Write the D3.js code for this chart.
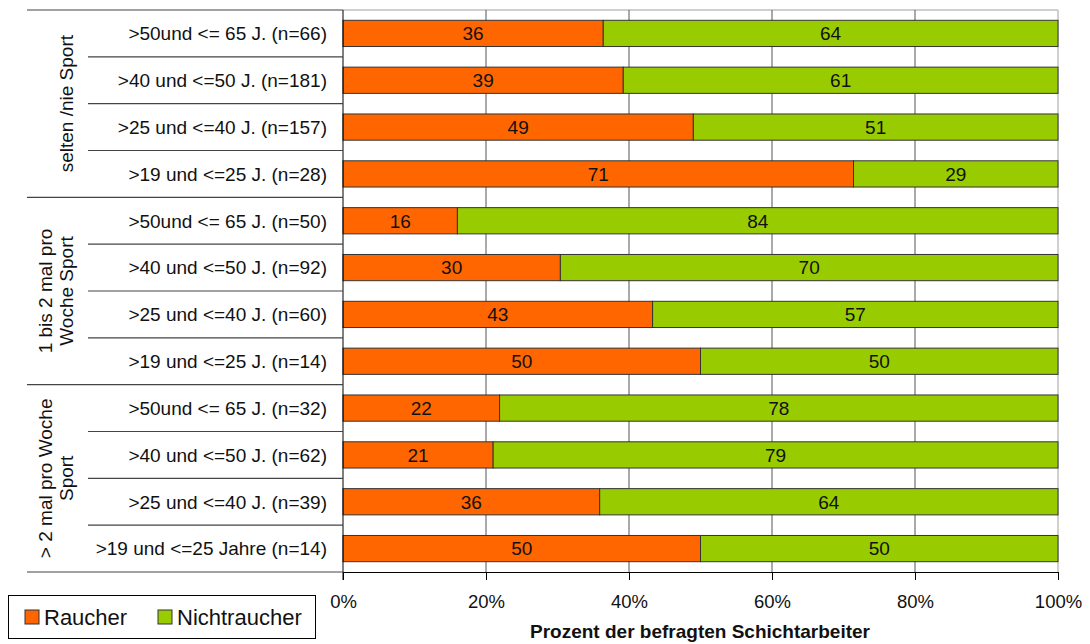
<!DOCTYPE html>
<html><head><meta charset="utf-8">
<script src="https://cdn.jsdelivr.net/npm/d3@7"></script>
<style>body{margin:0;background:#fff}svg{font-family:"Liberation Sans",Arial,sans-serif}</style>
</head><body><svg id="c" width="1090" height="644"></svg>
<script>
const groups = [["selten /nie Sport"], ["1 bis 2 mal pro", "Woche Sport"], ["> 2 mal pro Woche", "Sport"]];
const categories = [
  ">50und <= 65 J. (n=66)", ">40 und <=50 J. (n=181)", ">25 und <=40 J. (n=157)", ">19 und <=25 J. (n=28)",
  ">50und <= 65 J. (n=50)", ">40 und <=50 J. (n=92)", ">25 und <=40 J. (n=60)", ">19 und <=25 J. (n=14)",
  ">50und <= 65 J. (n=32)", ">40 und <=50 J. (n=62)", ">25 und <=40 J. (n=39)", ">19 und <=25 Jahre (n=14)"
];
const raucher = [36.4, 39.2, 49.0, 71.4, 16.0, 30.4, 43.3, 50.0, 21.9, 21.0, 35.9, 50.0];
const nichtraucher = [63.6, 60.8, 51.0, 28.6, 84.0, 69.6, 56.7, 50.0, 78.1, 79.0, 64.1, 50.0];
const raucherLabels = [36, 39, 49, 71, 16, 30, 43, 50, 22, 21, 36, 50];
const nichtraucherLabels = [64, 61, 51, 29, 84, 70, 57, 50, 78, 79, 64, 50];
const xTicks = [0, 20, 40, 60, 80, 100];
const seriesNames = ["Raucher", "Nichtraucher"];
const colors = ["#FF6600", "#99CC00"];

const svg = d3.select("#c");
const L = 343, R = 1058, T = 10, B = 572;
const x = d3.scaleLinear().domain([0, 100]).range([L, R]);
const y = d3.scaleBand().domain(d3.range(categories.length)).range([T, B]).paddingInner(0.44).paddingOuter(0.22);
const rowY = d3.scaleBand().domain(d3.range(categories.length)).range([T, B]);

// frame top/right
svg.append("line").attr("x1", L).attr("x2", R).attr("y1", T).attr("y2", T).attr("stroke", "#c0c0c0").attr("stroke-width", 1.5);
svg.append("line").attr("x1", R).attr("x2", R).attr("y1", T).attr("y2", B).attr("stroke", "#c0c0c0").attr("stroke-width", 1.5);
// gridlines
svg.append("g").selectAll("line").data(xTicks.filter(d => d > 0 && d < 100)).join("line")
  .attr("x1", d => x(d)).attr("x2", d => x(d)).attr("y1", T).attr("y2", B)
  .attr("stroke", "#555").attr("stroke-width", 1);

// stacked bars
const stacked = categories.map((c, i) => [
  {s: 0, x0: 0, x1: raucher[i], lab: raucherLabels[i], i},
  {s: 1, x0: raucher[i], x1: raucher[i] + nichtraucher[i], lab: nichtraucherLabels[i], i}
]).flat();
svg.append("g").selectAll("rect").data(stacked).join("rect")
  .attr("x", d => x(d.x0)).attr("width", d => x(d.x1) - x(d.x0))
  .attr("y", d => y(d.i)).attr("height", y.bandwidth())
  .attr("fill", d => colors[d.s]).attr("stroke", "#333").attr("stroke-width", 1);
svg.append("g").selectAll("text").data(stacked).join("text")
  .attr("x", d => (x(d.x0) + x(d.x1)) / 2).attr("y", d => y(d.i) + y.bandwidth() / 2)
  .attr("dy", "0.36em").attr("text-anchor", "middle").attr("font-size", 19).attr("fill", "#111")
  .text(d => d.lab);

// x axis
const xa = svg.append("g").attr("transform", `translate(0,${B})`)
  .call(d3.axisBottom(x).tickValues(xTicks).tickFormat(d => d + "%").tickSize(8).tickSizeOuter(0));
xa.select(".domain").attr("stroke", "#000");
xa.selectAll(".tick line").attr("stroke", "#000");
xa.selectAll("text").attr("font-size", 18.5).attr("fill", "#111").attr("y", 23).style("font-family", "Liberation Sans, Arial, sans-serif");
svg.append("text").attr("x", 700).attr("y", 638).attr("text-anchor", "middle")
  .attr("font-size", 19).attr("font-weight", "bold").attr("fill", "#111").text("Prozent der befragten Schichtarbeiter");

// y axis line
svg.append("line").attr("x1", L).attr("x2", L).attr("y1", T).attr("y2", B + 8).attr("stroke", "#000");

// category separators
svg.append("g").selectAll("line").data(d3.range(categories.length + 1)).join("line")
  .attr("x1", i => i % 4 === 0 ? 27 : 88).attr("x2", L)
  .attr("y1", i => i < categories.length ? rowY(i) : B).attr("y2", i => i < categories.length ? rowY(i) : B)
  .attr("stroke", "#444").attr("stroke-width", 1.2);

// category labels
svg.append("g").selectAll("text").data(categories).join("text")
  .attr("x", 327).attr("y", (d, i) => rowY(i) + rowY.bandwidth() / 2).attr("dy", "0.36em")
  .attr("text-anchor", "end").attr("font-size", 19).attr("fill", "#111").text(d => d);

// group labels
groups.forEach((g, gi) => {
  const cy = (rowY(gi * 4) + (gi * 4 + 4 < categories.length ? rowY(gi * 4 + 4) : B)) / 2;
  const lh = 21;
  const t = svg.append("text").attr("text-anchor", "middle").attr("font-size", 19).attr("fill", "#111");
  g.forEach((line, li) => {
    const cx = 66 - (g.length - 1 - li) * lh;
    t.append("tspan").attr("x", 0).attr("y", 0).attr("dy", "0.36em")
      .attr("transform", null).text(line);
  });
  t.remove();
  g.forEach((line, li) => {
    const cx = 66 - (g.length - 1 - li) * lh;
    svg.append("text").attr("transform", `translate(${cx},${cy}) rotate(-90)`)
      .attr("text-anchor", "middle").attr("font-size", 19).attr("fill", "#111")
      .attr("dy", "0.36em").text(line);
  });
});

// legend
const lg = svg.append("g");
lg.append("rect").attr("x", 8.5).attr("y", 595.5).attr("width", 307).attr("height", 43).attr("fill", "#fff").attr("stroke", "#000");
const legX = [25, 158];
seriesNames.forEach((n, i) => {
  lg.append("rect").attr("x", legX[i]).attr("y", 610).attr("width", 14).attr("height", 14)
    .attr("fill", colors[i]).attr("stroke", "#333");
  lg.append("text").attr("x", legX[i] + 19).attr("y", 617).attr("dy", "0.36em")
    .attr("font-size", 22).attr("fill", "#111").text(n);
});
</script></body></html>
